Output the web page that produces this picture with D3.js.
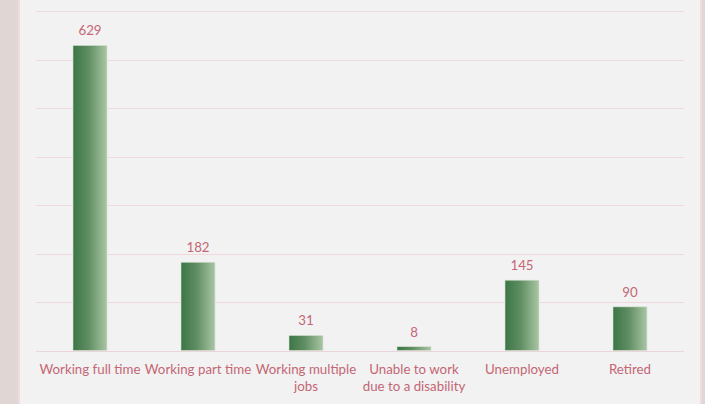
<!DOCTYPE html>
<html>
<head>
<meta charset="utf-8">
<script src="https://cdn.jsdelivr.net/npm/d3@7"></script>
<style>
  body { margin: 0; background: #f2f2f2; }
  svg { display: block; }
  text { font-family: Lato, "Open Sans", sans-serif; }
</style>
</head>
<body>
<svg id="chart"></svg>
<script>
// chart data
const categories = [
    ["Working full time"],
    ["Working part time"],
    ["Working multiple", "jobs"],
    ["Unable to work", "due to a disability"],
    ["Unemployed"],
    ["Retired"]
]
const values = [629, 182, 31, 8, 145, 90]
const yTicks = [0, 100, 200, 300, 400, 500, 600, 700]

const width = 705
const height = 404
const margin = { top: 11, right: 21, bottom: 53, left: 36 }

const svg = d3.select('#chart')
    .attr('width', width)
    .attr('height', height)

// frame strips on the sides
svg.append('rect').attr('x', 0).attr('y', 0).attr('width', 18).attr('height', height).attr('fill', '#e0d6d4')
svg.append('rect').attr('x', 18).attr('y', 0).attr('width', 2).attr('height', height).attr('fill', '#ecdede')
svg.append('rect').attr('x', 700).attr('y', 0).attr('width', 2).attr('height', height).attr('fill', '#ecdede')
svg.append('rect').attr('x', 702).attr('y', 0).attr('width', 3).attr('height', height).attr('fill', '#e0d6d4')

const defs = svg.append('defs')
const grad = defs.append('linearGradient')
    .attr('id', 'barGrad')
    .attr('x1', '0%').attr('x2', '100%').attr('y1', '0%').attr('y2', '0%')
grad.append('stop').attr('offset', '0%').attr('stop-color', '#3b7646')
grad.append('stop').attr('offset', '45%').attr('stop-color', '#5f8d62')
grad.append('stop').attr('offset', '100%').attr('stop-color', '#a9c6a4')

const x = d3.scaleBand()
    .domain(d3.range(categories.length))
    .range([margin.left, width - margin.right])
    .paddingInner(0.685)
    .paddingOuter(0.3425)

const y = d3.scaleLinear()
    .domain([0, 700])
    .range([height - margin.bottom - 0.5, margin.top])

// gridlines
svg.append('g')
    .selectAll('line')
    .data(yTicks)
    .enter().append('line')
    .attr('x1', margin.left)
    .attr('x2', width - margin.right)
    .attr('y1', d => Math.round(y(d)) + 0.5)
    .attr('y2', d => Math.round(y(d)) + 0.5)
    .attr('stroke', d => d == 0 ? '#ead6da' : '#f0d9dd')
    .attr('stroke-width', 1.2)

// bars
svg.append('g')
    .selectAll('rect')
    .data(values)
    .enter().append('rect')
    .attr('x', (d, i) => x(i))
    .attr('y', d => y(d))
    .attr('width', x.bandwidth())
    .attr('height', d => y(0) - y(d))
    .attr('fill', 'url(#barGrad)')
    .attr('stroke', '#d8e3d4')
    .attr('stroke-width', 0.6)

// value labels
svg.append('g')
    .selectAll('text')
    .data(values)
    .enter().append('text')
    .attr('x', (d, i) => x(i) + x.bandwidth() / 2)
    .attr('y', d => y(d) - 10)
    .attr('text-anchor', 'middle')
    .attr('font-size', 13.3)
    .attr('fill', '#c46674')
    .text(d => d)

// category labels
const labels = svg.append('g')
    .selectAll('text')
    .data(categories)
    .enter().append('text')
    .attr('x', (d, i) => x(i) + x.bandwidth() / 2)
    .attr('y', 374)
    .attr('text-anchor', 'middle')
    .attr('font-size', 13.3)
    .attr('fill', '#c46674')

labels.selectAll('tspan')
    .data(d => d)
    .enter().append('tspan')
    .attr('x', function () { return d3.select(this.parentNode).attr('x') })
    .attr('dy', (d, i) => i == 0 ? 0 : 17)
    .text(d => d)
</script>
</body>
</html>
